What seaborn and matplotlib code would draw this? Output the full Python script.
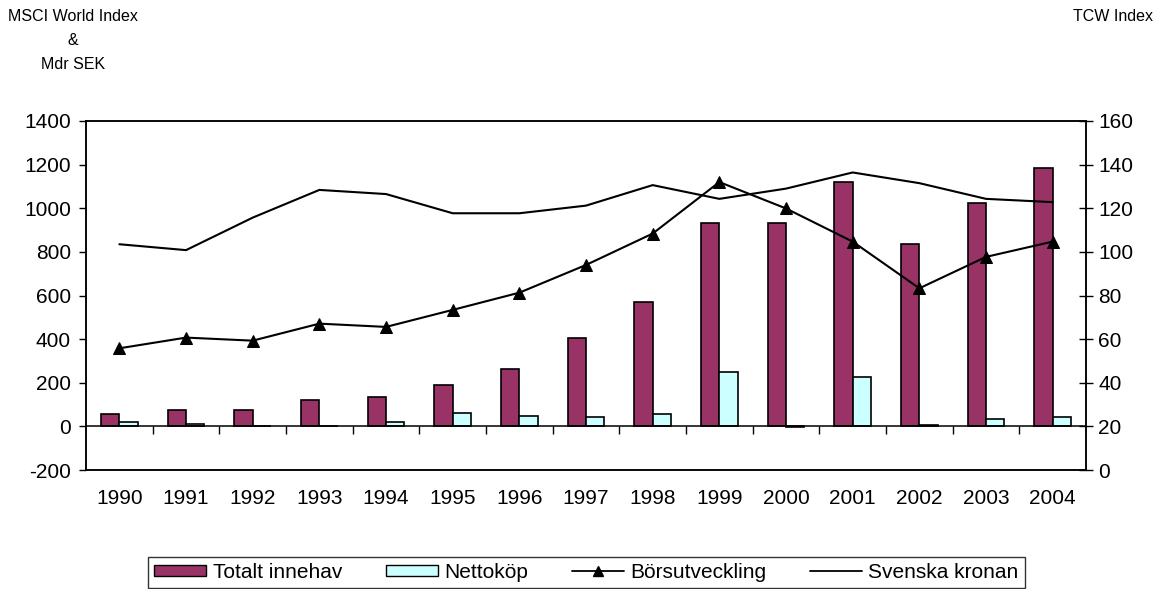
import numpy as np
import pandas as pd
import seaborn as sns
import matplotlib.pyplot as plt
from matplotlib.lines import Line2D
from matplotlib.patches import Patch

# Data
years = [str(y) for y in range(1990, 2005)]
totalt_innehav = [55, 77, 77, 119, 134, 191, 263, 405, 569, 933, 933, 1119, 834, 1026, 1184]
nettokop = [20, 12, 0, 0, 20, 63, 49, 43, 55, 248, -5, 226, 5, 33, 43]
borsutveckling = [55.8, 60.7, 59.3, 67.1, 65.6, 73.4, 81.3, 94.0, 108.4, 132.0, 119.9, 104.7, 83.3, 97.7, 104.7]
svenska_kronan = [103.5, 100.8, 115.7, 128.4, 126.5, 117.7, 117.7, 121.2, 130.6, 124.3, 129.0, 136.4, 131.5, 124.3, 122.8]

left_ticks = list(range(-200, 1401, 200))
right_ticks = list(range(0, 161, 20))

sns.set_style("white", {'text.color': 'black', 'axes.labelcolor': 'black',
                        'xtick.color': 'black', 'ytick.color': 'black'})
plt.rcParams['font.family'] = ['Liberation Sans', 'DejaVu Sans']
plt.rcParams['axes.unicode_minus'] = False

bars = pd.DataFrame({
    'År': years * 2,
    'Värde': totalt_innehav + nettokop,
    'Serie': ['Totalt innehav'] * len(years) + ['Nettoköp'] * len(years),
})
bar_colors = {'Totalt innehav': '#993366', 'Nettoköp': '#CCFFFF'}

fig = plt.figure(figsize=(11.61, 5.89), dpi=100)
ax = fig.add_axes([0.0741, 0.2020, 0.8613, 0.5926])

sns.barplot(data=bars, x='År', y='Värde', hue='Serie', palette=bar_colors,
            width=0.55, edgecolor='black', linewidth=1.2, saturation=1,
            legend=False, ax=ax)
ax.set_xlim(-0.5, len(years) - 0.5)
ax.set_ylim(-200, 1400)
ax.set_yticks(left_ticks)
ax.set_xlabel('')
ax.set_ylabel('')
ax.axhline(0, color='black', lw=1.1, zorder=1)
ax.tick_params(axis='y', direction='out', length=5, width=1, labelsize=15, pad=6)
ax.tick_params(axis='x', length=0, labelsize=15, pad=14)
for s in ax.spines.values():
    s.set_linewidth(1.1)
    s.set_color('black')

# category tick marks hanging under the zero line
sec = ax.secondary_xaxis(0, transform=ax.transData)
sec.set_xticks(np.arange(0.5, len(years) - 1, 1.0))
sec.tick_params(axis='x', direction='out', length=6, width=1, labelbottom=False)
sec.spines['bottom'].set_visible(False)

ax2 = ax.twinx()
xpos = np.arange(len(years))
sns.lineplot(x=xpos, y=borsutveckling, color='black', lw=1.5, marker='^',
             markersize=9, markeredgecolor='black', ax=ax2)
sns.lineplot(x=xpos, y=svenska_kronan, color='black', lw=1.5, ax=ax2)
ax2.set_ylim(0, 160)
ax2.set_yticks(right_ticks)
ax2.tick_params(axis='y', direction='inout', length=10, width=1, labelsize=15, pad=4)
for s in ax2.spines.values():
    s.set_linewidth(1.1)
    s.set_color('black')

fig.text(0.063, 0.985, 'MSCI World Index\n&\nMdr SEK', ha='center', va='top',
         fontsize=11.5, linespacing=1.75)
fig.text(0.993, 0.985, 'TCW Index', ha='right', va='top', fontsize=11.5)

handles = [
    Patch(facecolor='#993366', edgecolor='black', label='Totalt innehav'),
    Patch(facecolor='#CCFFFF', edgecolor='black', label='Nettoköp'),
    Line2D([], [], color='black', lw=1.3, marker='^', markersize=7, label='Börsutveckling'),
    Line2D([], [], color='black', lw=1.3, label='Svenska kronan'),
]
leg = fig.legend(handles=handles, loc='upper center', bbox_to_anchor=(0.505, 0.055),
                 ncol=4, frameon=True, fancybox=False, edgecolor='black',
                 fontsize=15, handlelength=2.5, handleheight=0.5,
                 columnspacing=2.1, borderpad=0.3, handletextpad=0.3,
                 borderaxespad=0)
leg.get_frame().set_linewidth(1.0)

fig.savefig('out.png', dpi=100)
